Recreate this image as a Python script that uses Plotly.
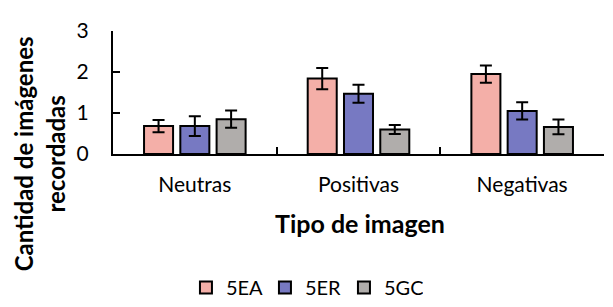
import plotly.graph_objects as go

categories = ["Neutras", "Positivas", "Negativas"]
series_names = ["5EA", "5ER", "5GC"]
ea_values = [0.68, 1.84, 1.95]
er_values = [0.68, 1.47, 1.05]
gc_values = [0.85, 0.60, 0.66]
ea_err = [0.15, 0.26, 0.21]
er_err = [0.24, 0.22, 0.21]
gc_err = [0.21, 0.11, 0.18]
colors = ["#F4AFA8", "#7779C2", "#B0ADAB"]
y_ticks = [0, 1, 2, 3]

FONT = "Lato, Carlito, Calibri, sans-serif"

fig = go.Figure()
for name, vals, errs, col in zip(series_names, [ea_values, er_values, gc_values],
                                 [ea_err, er_err, gc_err], colors):
    fig.add_trace(go.Bar(
        x=categories, y=vals, name=name,
        marker=dict(color=col, line=dict(color="black", width=2)),
        error_y=dict(type="data", array=errs, color="black", thickness=2, width=6),
    ))

# page body has an 8px default margin, so the figure is 8px smaller on each axis
fig.update_layout(
    width=605, height=299,
    margin=dict(l=105, r=9, t=15, b=153),
    paper_bgcolor="white", plot_bgcolor="white",
    barmode="group", bargap=0.335, bargroupgap=0.2,
    font=dict(family=FONT, size=20, color="black"),
    showlegend=True,
    legend=dict(orientation="h", xref="container", yref="container",
                x=0.49, xanchor="center", y=-0.02, yanchor="bottom",
                font=dict(size=20, family=FONT), traceorder="normal",
                itemwidth=30, tracegroupgap=0, entrywidth=34),
    xaxis=dict(showline=True, linecolor="black", linewidth=2,
               ticks="inside", ticklen=7, tickwidth=1.5, tickcolor="black",
               tickson="boundaries", ticklabelstandoff=11,
               tickfont=dict(size=21, family=FONT), showgrid=False),
    yaxis=dict(range=[0, 3], tickvals=y_ticks, showline=True, linecolor="black", linewidth=2,
               ticks="inside", ticklen=7, tickwidth=1.5, tickcolor="black",
               ticklabelstandoff=18, tickfont=dict(size=21, family=FONT),
               showgrid=False, zeroline=False),
    annotations=[
        dict(text="<b>Cantidad de imágenes<br>recordadas</b>", textangle=-90,
             xref="paper", yref="paper", x=-0.15, y=0.0, xanchor="center", yanchor="middle",
             showarrow=False, font=dict(size=24, family=FONT)),
        dict(text="<b>Tipo de imagen</b>", xref="paper", yref="paper", x=0.503, y=-0.56,
             xanchor="center", yanchor="middle", showarrow=False,
             font=dict(size=25, family=FONT)),
    ],
)

fig.write_html("out.html")
